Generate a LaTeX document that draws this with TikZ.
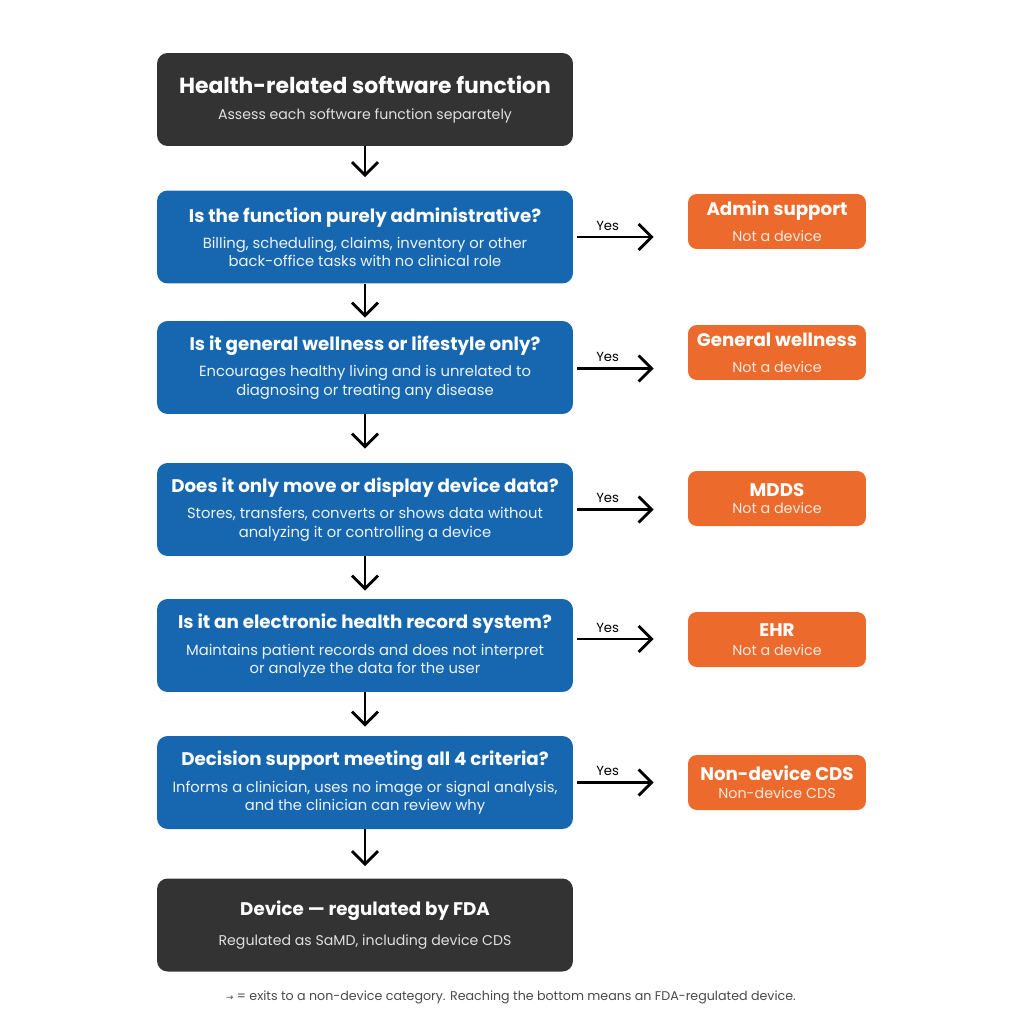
\documentclass[tikz,border=0pt]{standalone}
\usepackage{fontspec}
\setmainfont{Poppins}
\newfontfamily\symfont{DejaVu Sans}
\usepackage{xcolor}
\usetikzlibrary{arrows.meta,positioning}
\definecolor{boxDark}{HTML}{333333}
\definecolor{boxBlue}{HTML}{1767B0}
\definecolor{boxOrange}{HTML}{EC6A2C}
\definecolor{noteGray}{HTML}{4A4A4A}
\newcommand\bighead{\fontsize{12.45}{14}\selectfont\bfseries}
\newcommand\head{\fontsize{10.4}{12}\selectfont\bfseries}
\newcommand\darktext{\fontsize{8.05}{10}\selectfont\color{white!88!black}}
\newcommand\bluetext{\fontsize{8.4}{10.2}\selectfont\color{white!92!boxBlue}}
\newcommand\orangetext{\fontsize{8.15}{10}\selectfont\color{white!85!boxOrange}}

\begin{document}
\begin{tikzpicture}[x=0.02cm, y=-0.02cm,
  dark/.style={fill=boxDark, text=white, rounded corners=6pt, minimum width=8.32cm, minimum height=1.86cm, align=center, inner sep=0pt},
  ask/.style={fill=boxBlue, text=white, rounded corners=6pt, minimum width=8.32cm, minimum height=1.86cm, align=center, inner sep=0pt},
  exit/.style={fill=boxOrange, text=white, rounded corners=5pt, minimum width=3.56cm, minimum height=1.1cm, align=center, inner sep=0pt},
  flow/.style={line width=1.6pt, -{Straight Barb[length=0.26cm, width=0.52cm, line width=1.6pt]}},
  yes/.style={font=\fontsize{7.5}{9}\selectfont, text=black, above, inner sep=3pt}]
\useasboundingbox (0,0) rectangle (1024,1024);
\fill[white] (0,0) rectangle (1024,1024);
% main column
\node[dark] (top) at (365,99.5) {\bighead Health-related software function\\[3pt]
  \darktext Assess each software function separately};
\node[ask] (q1) at (365,237) {\head Is the function purely administrative?\\[3pt]
  \bluetext Billing, scheduling, claims, inventory or other\\[-1.7pt]\bluetext back-office tasks with no clinical role};
\node[ask] (q2) at (365,367.5) {\head Is it general wellness or lifestyle only?\\[3pt]
  \bluetext Encourages healthy living and is unrelated to\\[-1.7pt]\bluetext diagnosing or treating any disease};
\node[ask] (q3) at (365,509.5) {\head Does it only move or display device data?\\[3pt]
  \bluetext Stores, transfers, converts or shows data without\\[-1.7pt]\bluetext analyzing it or controlling a device};
\node[ask] (q4) at (365,645.5) {\head Is it an electronic health record system?\\[3pt]
  \bluetext Maintains patient records and does not interpret\\[-1.7pt]\bluetext or analyze the data for the user};
\node[ask] (q5) at (365,782.5) {\head Decision support meeting all 4 criteria?\\[3pt]
  \bluetext Informs a clinician, uses no image or signal analysis,\\[-1.7pt]\bluetext and the clinician can review why};
\node[dark] (dev) at (365,925) {\head Device — regulated by FDA\\[5pt]
  \darktext Regulated as SaMD, including device CDS};
% exits
\node[exit] (e1) at (777,221.5) {\head Admin support\\[3pt]\orangetext Not a device};
\node[exit] (e2) at (777,352.5) {\head General wellness\\[3pt]\orangetext Not a device};
\node[exit] (e3) at (777,498.5) {\head MDDS\\[-2pt]\orangetext Not a device};
\node[exit] (e4) at (777,639.5) {\head EHR\\[-1pt]\orangetext Not a device};
\node[exit] (e5) at (777,782.5) {\head Non-device CDS\\[-2pt]\orangetext Non-device CDS};
% connectors
\draw[flow, shorten >=0.26cm] (top) -- (q1);
\draw[flow, shorten >=0.06cm] (q1) -- (q2);
\draw[flow, shorten >=0.28cm] (q2) -- (q3);
\draw[flow, shorten >=0.16cm] (q3) -- (q4);
\draw[flow, shorten >=0.18cm] (q4) -- (q5);
\draw[flow, shorten >=0.24cm] (q5) -- (dev);
\draw[flow, shorten <=0.08cm, shorten >=0.68cm] (q1.east) -- (q1.east -| e1.west) node[yes, pos=0.3] {Yes};
\draw[flow, shorten <=0.08cm, shorten >=0.68cm] ([yshift=-0.02cm]q2.east) -- ([yshift=-0.02cm]q2.east -| e2.west) node[yes, pos=0.3] {Yes};
\draw[flow, shorten <=0.08cm, shorten >=0.68cm] (q3.east) -- (q3.east -| e3.west) node[yes, pos=0.3] {Yes};
\draw[flow, shorten <=0.08cm, shorten >=0.68cm] ([yshift=0.13cm]q4.east) -- ([yshift=0.13cm]q4.east -| e4.west) node[yes, pos=0.3] {Yes};
\draw[flow, shorten <=0.08cm, shorten >=0.68cm] (q5.east) -- (q5.east -| e5.west) node[yes, pos=0.3] {Yes};
% note
\node[text=noteGray, font=\fontsize{7.2}{8}\selectfont] (note) at (511,997) {{\symfont\fontsize{5}{6}\selectfont →} = exits to a non-device category. Reaching the bottom means an FDA-regulated device.};
\end{tikzpicture}
\end{document}
